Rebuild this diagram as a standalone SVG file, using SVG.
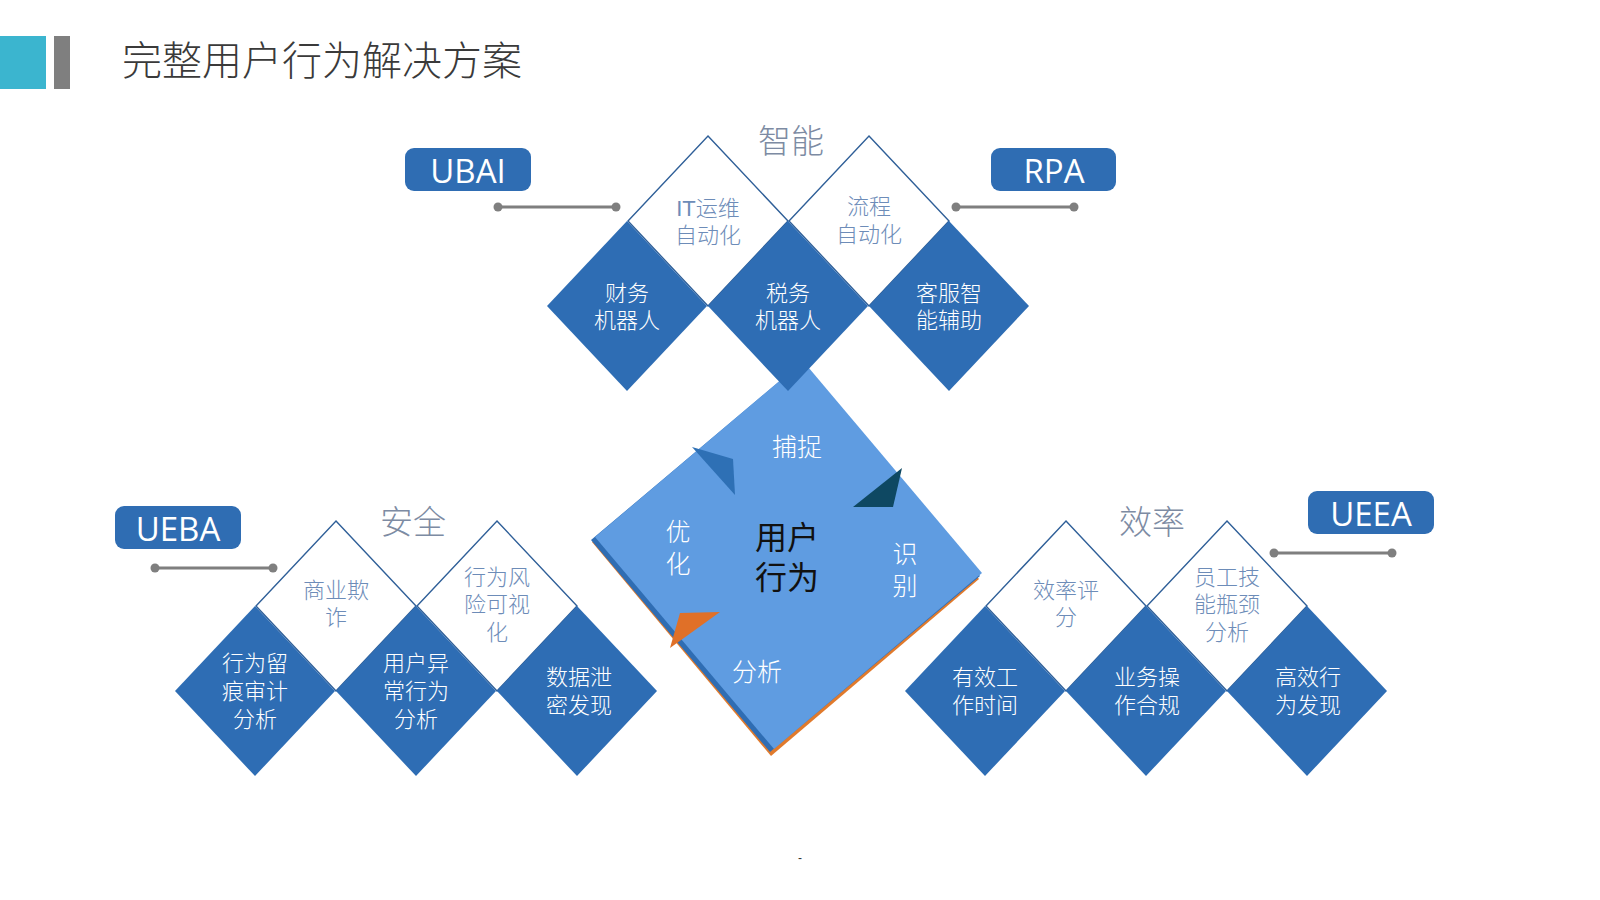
<svg xmlns="http://www.w3.org/2000/svg" width="1600" height="900" viewBox="0 0 1600 900">
<style>
.cjk{font-family:"Liberation Sans","Noto Sans CJK SC",sans-serif}
.title{font-size:40px;fill:#3a3a3a;font-weight:300}
.sec{font-size:33px;fill:#7d8ba3;font-weight:300;text-anchor:middle;dominant-baseline:central}
.tag{fill:#2f6db3}
.tagt{font-family:"Open Sans","Liberation Sans",sans-serif;font-size:33px;fill:#fff;text-anchor:middle;dominant-baseline:central}
.out{fill:#fff;stroke:#2f5f98;stroke-width:1.4}
.fill{fill:#2e6db4}
.ot{font-size:22px;fill:#6d8cb8;font-weight:300;text-anchor:middle;dominant-baseline:central}
.ft{font-size:22px;fill:#fff;font-weight:300;text-anchor:middle;dominant-baseline:central}
.ct{font-size:25px;fill:#fff;font-weight:300;text-anchor:middle;dominant-baseline:central}
.cc{font-size:32px;fill:#111;font-weight:400;text-anchor:middle;dominant-baseline:central}
.ln{stroke:#7f7f7f;stroke-width:3}
.dot{fill:#7f7f7f}
</style>
<rect x="0" y="36" width="46" height="53" fill="#3bb5cf"/>
<rect x="54" y="36" width="16" height="53" fill="#7f7f7f"/>
<text class="cjk title" x="122" y="75">完整用户行为解决方案</text>

<g id="center">
  <polygon points="801,366 979,579 771,756 592,542" fill="#e07a2c"/>
  <polygon points="800,364 980,576 770,752 591,540" fill="#2f6db3"/>
  <polygon points="803,361 982,573 774,749 595,537" fill="#5f9ce1"/>
  <polygon points="692,447 733,459 735,495" fill="#2e70b5"/>
  <polygon points="853,507 902,468 893,507" fill="#0e4862"/>
  <polygon points="670,648 680,613 720,612" fill="#e07028"/>
  <polygon points="866,677 876,668 879,679" fill="#ffffff"/>
  <text class="cjk ct" x="797" y="447">捕捉</text>
  <text class="cjk ct" x="678" y="532">优</text>
  <text class="cjk ct" x="678" y="564">化</text>
  <text class="cjk ct" x="905" y="554">识</text>
  <text class="cjk ct" x="905" y="586">别</text>
  <text class="cjk ct" x="757" y="672">分析</text>
  <text class="cjk cc" x="787" y="538">用户</text>
  <text class="cjk cc" x="787" y="578">行为</text>
</g>

<g id="connectors">
  <line class="ln" x1="498" y1="207" x2="616" y2="207"/>
  <circle class="dot" cx="498" cy="207" r="4.5"/><circle class="dot" cx="616" cy="207" r="4.5"/>
  <line class="ln" x1="956" y1="207" x2="1074" y2="207"/>
  <circle class="dot" cx="956" cy="207" r="4.5"/><circle class="dot" cx="1074" cy="207" r="4.5"/>
  <line class="ln" x1="155" y1="568" x2="273" y2="568"/>
  <circle class="dot" cx="155" cy="568" r="4.5"/><circle class="dot" cx="273" cy="568" r="4.5"/>
  <line class="ln" x1="1274" y1="553" x2="1392" y2="553"/>
  <circle class="dot" cx="1274" cy="553" r="4.5"/><circle class="dot" cx="1392" cy="553" r="4.5"/>
</g>

<!-- Top group -->
<g id="label-zhineng"><text class="cjk sec" x="791" y="141">智能</text></g>
<g id="tag-ubai"><rect class="tag" x="405" y="148" width="126" height="43" rx="9"/><text class="tagt" x="468" y="170">UBAI</text></g>
<g id="tag-rpa"><rect class="tag" x="991" y="148" width="125" height="43" rx="9"/><text class="tagt" x="1054" y="170">RPA</text></g>
<g id="it-ops"><polygon class="out" points="708,136 788,221 708,306 628,221"/><text class="cjk ot" x="708" y="208">IT运维</text><text class="cjk ot" x="708" y="235">自动化</text></g>
<g id="flow-auto"><polygon class="out" points="869,136 949,221 869,306 789,221"/><text class="cjk ot" x="869" y="206">流程</text><text class="cjk ot" x="869" y="234">自动化</text></g>
<g id="finance-bot"><polygon class="fill" points="627,221 707,306 627,391 547,306"/><text class="cjk ft" x="627" y="293">财务</text><text class="cjk ft" x="627" y="320">机器人</text></g>
<g id="tax-bot"><polygon class="fill" points="788,221 868,306 788,391 708,306"/><text class="cjk ft" x="788" y="293">税务</text><text class="cjk ft" x="788" y="320">机器人</text></g>
<g id="cs-assist"><polygon class="fill" points="949,221 1029,306 949,391 869,306"/><text class="cjk ft" x="949" y="293">客服智</text><text class="cjk ft" x="949" y="320">能辅助</text></g>

<!-- Left group -->
<g id="label-anquan"><text class="cjk sec" x="413" y="522">安全</text></g>
<g id="tag-ueba"><rect class="tag" x="115" y="506" width="126" height="43" rx="9"/><text class="tagt" x="178" y="528">UEBA</text></g>
<g id="fraud"><polygon class="out" points="336,521 416,606 336,691 256,606"/><text class="cjk ot" x="336" y="590">商业欺</text><text class="cjk ot" x="336" y="617">诈</text></g>
<g id="risk-vis"><polygon class="out" points="497,521 577,606 497,691 417,606"/><text class="cjk ot" x="497" y="577">行为风</text><text class="cjk ot" x="497" y="604">险可视</text><text class="cjk ot" x="497" y="632">化</text></g>
<g id="audit"><polygon class="fill" points="255,606 335,691 255,776 175,691"/><text class="cjk ft" x="255" y="663">行为留</text><text class="cjk ft" x="255" y="691">痕审计</text><text class="cjk ft" x="255" y="719">分析</text></g>
<g id="anomaly"><polygon class="fill" points="416,606 496,691 416,776 336,691"/><text class="cjk ft" x="416" y="663">用户异</text><text class="cjk ft" x="416" y="691">常行为</text><text class="cjk ft" x="416" y="719">分析</text></g>
<g id="leak"><polygon class="fill" points="577,606 657,691 577,776 497,691"/><text class="cjk ft" x="579" y="677">数据泄</text><text class="cjk ft" x="579" y="705">密发现</text></g>

<!-- Right group -->
<g id="label-xiaolv"><text class="cjk sec" x="1152" y="522">效率</text></g>
<g id="tag-ueea"><rect class="tag" x="1308" y="491" width="126" height="43" rx="9"/><text class="tagt" x="1371" y="513">UEEA</text></g>
<g id="eff-score"><polygon class="out" points="1066,521 1146,606 1066,691 986,606"/><text class="cjk ot" x="1066" y="590">效率评</text><text class="cjk ot" x="1066" y="617">分</text></g>
<g id="skill"><polygon class="out" points="1227,521 1307,606 1227,691 1147,606"/><text class="cjk ot" x="1227" y="577">员工技</text><text class="cjk ot" x="1227" y="604">能瓶颈</text><text class="cjk ot" x="1227" y="632">分析</text></g>
<g id="worktime"><polygon class="fill" points="985,606 1065,691 985,776 905,691"/><text class="cjk ft" x="985" y="677">有效工</text><text class="cjk ft" x="985" y="705">作时间</text></g>
<g id="compliance"><polygon class="fill" points="1146,606 1226,691 1146,776 1066,691"/><text class="cjk ft" x="1147" y="677">业务操</text><text class="cjk ft" x="1147" y="705">作合规</text></g>
<g id="efficient"><polygon class="fill" points="1307,606 1387,691 1307,776 1227,691"/><text class="cjk ft" x="1308" y="677">高效行</text><text class="cjk ft" x="1308" y="705">为发现</text></g>

<text class="cjk" x="800" y="862" font-size="12" fill="#333" text-anchor="middle">-</text>
</svg>
